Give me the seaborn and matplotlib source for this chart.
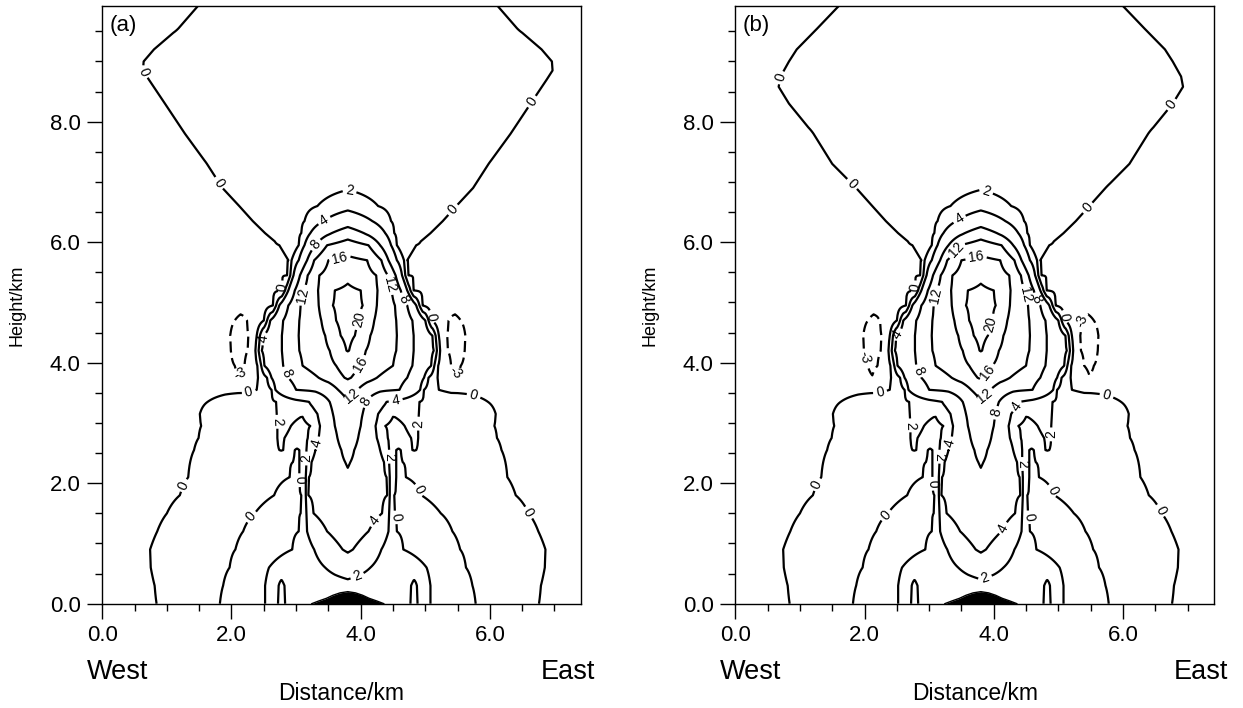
import numpy as np
import matplotlib
matplotlib.use("Agg")
import matplotlib.pyplot as plt
import seaborn as sns

# ---------------------------------------------------------------------------
# Vertical-velocity field, west half of the section (x from 0 to the ridge
# centre at 3.8 km).  Each row is a list of (distance_km, value) knots along
# one height level; the east half mirrors the west half about the ridge.
# ---------------------------------------------------------------------------
ridge_centre = 3.8

heights_low = [0.0, 0.3, 0.6, 0.9, 1.2, 1.5, 1.8, 2.1, 2.35]
profiles_low = [
    [(0, -1.0), (0.84, 0), (1.3, 0.8), (1.82, 0), (2.15, -0.8), (2.52, 0), (2.63, 0.5), (2.72, 0), (2.775, -0.5), (2.83, 0), (3.0, 0.7), (3.5, 0.8), (3.8, 0.8)],
    [(0, -1.0), (0.81, 0), (1.3, 0.8), (1.87, 0), (2.2, -0.8), (2.52, 0), (2.63, 0.5), (2.73, 0), (2.775, -0.3), (2.82, 0), (3.0, 0.8), (3.5, 1.3), (3.8, 1.55)],
    [(0, -1.0), (0.75, 0), (1.3, 0.8), (1.97, 0), (2.28, -0.8), (2.58, 0), (2.9, 1.0), (3.3, 1.6), (3.45, 2), (3.6, 2.4), (3.8, 2.83)],
    [(0, -1.0), (0.74, 0), (1.3, 0.8), (2.06, 0), (2.5, -0.8), (2.94, 0), (3.05, 0.8), (3.28, 2), (3.55, 3.3), (3.72, 4), (3.8, 4.25)],
    [(0, -1.0), (0.85, 0), (1.4, 0.8), (2.18, 0), (2.6, -0.8), (3.04, 0), (3.1, 0.8), (3.17, 2), (3.3, 3.0), (3.48, 4), (3.8, 5.07)],
    [(0, -1.0), (1.0, 0), (1.6, 0.8), (2.36, 0), (2.75, -0.6), (3.07, 0), (3.11, 1.0), (3.16, 2), (3.22, 3.0), (3.27, 4), (3.8, 5.9)],
    [(0, -1.0), (1.2, 0), (1.9, 0.8), (2.66, 0), (2.9, -0.5), (3.08, 0), (3.11, 1.0), (3.15, 2), (3.17, 3.0), (3.19, 4), (3.8, 6.72)],
    [(0, -1.0), (1.33, 0), (2.0, 0.8), (2.9, 0), (2.97, -0.4), (3.05, 0), (3.1, 1.0), (3.15, 2), (3.18, 3), (3.2, 4), (3.8, 7.54)],
    [(0, -1.0), (1.36, 0), (2.1, 0.8), (2.95, 0), (3.0, -0.3), (3.05, 0), (3.1, 1.0), (3.16, 2), (3.2, 3), (3.24, 4), (3.5, 6.5), (3.76, 8), (3.8, 8.28)],
]

heights_mid = [2.55, 2.75, 2.95, 3.15, 3.35, 3.55, 3.75, 3.95, 4.2, 4.45, 4.7]
profiles_mid = [
    [(0, -1.0), (1.42, 0), (2.1, 0.8), (2.74, 2), (2.77, 2.1), (2.80, 2), (2.9, 1.0), (2.98, 0), (3.015, -0.2), (3.05, 0), (3.1, 1), (3.16, 2), (3.22, 3), (3.3, 4), (3.5, 6.5), (3.7, 8), (3.8, 8.97)],
    [(0, -1.0), (1.49, 0), (2.1, 0.8), (2.71, 2), (2.765, 2.3), (2.82, 2), (3.0, 1.2), (3.18, 2), (3.25, 3), (3.35, 4), (3.5, 6), (3.64, 8), (3.8, 9.66)],
    [(0, -1.0), (1.53, 0), (2.1, 0.8), (2.71, 2), (2.82, 2.5), (2.92, 2), (3.07, 1.6), (3.22, 2), (3.3, 3), (3.37, 4), (3.5, 6), (3.6, 8), (3.8, 10.34)],
    [(0, -1.0), (1.51, 0), (2.1, 0.8), (2.7, 2), (2.9, 2.4), (3.1, 2.1), (3.25, 3), (3.33, 4), (3.45, 6), (3.57, 8), (3.8, 11.03)],
    [(0, -1.0), (1.63, 0), (2.1, 0.8), (2.4, 1.0), (2.69, 2), (2.95, 3), (3.2, 4), (3.52, 8), (3.8, 11.72)],
    [(0, -1.0), (1.5, -0.5), (1.9, -0.3), (2.2, -0.3), (2.39, 0), (2.62, 2), (2.68, 4), (3.0, 8), (3.3, 8.5), (3.5, 9.5), (3.65, 12), (3.8, 13.7)],
    [(0, -1.2), (1.6, -1.6), (2.12, -2.9), (2.30, -1.2), (2.41, 0), (2.55, 2), (2.62, 4), (2.88, 8), (3.35, 12), (3.75, 16), (3.8, 16.35)],
    [(0, -1.3), (1.7, -2.2), (2.05, -3), (2.12, -3.4), (2.2, -3), (2.3, -1.5), (2.4, 0), (2.46, 2), (2.51, 4), (2.8, 8), (3.1, 12), (3.62, 16), (3.8, 18.1)],
    [(0, -1.3), (1.7, -2.4), (1.99, -3), (2.12, -3.8), (2.25, -3), (2.37, 0), (2.42, 2), (2.47, 4), (2.78, 8), (3.05, 12), (3.52, 16), (3.78, 20), (3.8, 20.1)],
    [(0, -1.3), (1.7, -2.4), (1.98, -3), (2.12, -3.8), (2.26, -3), (2.39, 0), (2.44, 2), (2.49, 4), (2.78, 8), (3.04, 12), (3.45, 16), (3.69, 20), (3.8, 20.9)],
    [(0, -1.3), (1.8, -2.4), (2.05, -3), (2.14, -3.4), (2.24, -3), (2.5, 0), (2.55, 2), (2.6, 4), (2.8, 8), (3.05, 12), (3.39, 16), (3.62, 20), (3.8, 21.7)],
]

heights_core = [4.95, 5.2, 5.45, 5.7, 5.95, 6.15, 6.35, 6.6]
profiles_core = [
    [(0, -1.2), (1.8, -2.0), (2.2, -2.5), (2.64, 0), (2.69, 2), (2.74, 4), (2.88, 8), (3.07, 12), (3.35, 16), (3.57, 20), (3.8, 21.5)],
    [(0, -1.1), (2.0, -1.5), (2.78, 0), (2.83, 2), (2.88, 4), (2.98, 8), (3.12, 12), (3.34, 16), (3.6, 20), (3.8, 20.6)],
    [(0, -1.0), (2.0, -1.0), (2.46, -0.4), (2.86, 0), (2.91, 2), (2.96, 4), (3.06, 8), (3.18, 12), (3.36, 16), (3.8, 19.26)],
    [(0, -1.0), (2.48, -0.4), (2.88, 0), (2.93, 2), (3.04, 4), (3.17, 8), (3.28, 12), (3.5, 16), (3.8, 16.9)],
    [(0, -1.0), (2.34, -0.4), (2.74, 0), (2.89, 0.15), (3.04, 2), (3.13, 4), (3.3, 8), (3.48, 12), (3.8, 13.8)],
    [(0, -1.0), (2.12, -0.4), (2.52, 0), (2.67, 0.15), (3.08, 2), (3.22, 4), (3.55, 8), (3.8, 10.0)],
    [(0, -1.0), (1.93, -0.4), (2.33, 0), (2.63, 0.3), (3.13, 2), (3.42, 4), (3.8, 6.08)],
    [(0, -1.0), (1.72, -0.4), (2.12, 0), (2.42, 0.3), (3.33, 2), (3.8, 3.14)],
]

# Upper layer, panel (a)
heights_upper_a = [6.9, 7.3, 7.8, 8.3, 8.7, 8.85, 9.0, 9.2, 9.55, 9.92]
profiles_upper_a = [
    [(0, -1.0), (1.46, -0.4), (1.86, 0), (2.16, 0.3), (3.8, 1.87)],
    [(0, -1.0), (1.22, -0.4), (1.62, 0), (1.92, 0.3), (3.8, 1.5)],
    [(0, -0.9), (0.88, -0.4), (1.28, 0), (1.58, 0.3), (3.8, 1.2)],
    [(0, -0.8), (0.57, -0.4), (0.97, 0), (1.27, 0.3), (3.8, 1.0)],
    [(0, -0.72), (0.72, 0), (1.02, 0.3), (3.8, 0.88)],
    [(0, -0.63), (0.63, 0), (0.93, 0.3), (3.8, 0.86)],
    [(0, -0.64), (0.64, 0), (0.94, 0.3), (3.8, 0.83)],
    [(0, -0.8), (0.8, 0), (1.1, 0.3), (3.8, 0.8)],
    [(0, -0.9), (0.78, -0.4), (1.18, 0), (1.48, 0.3), (3.8, 0.7)],
    [(0, -1.0), (1.08, -0.4), (1.48, 0), (1.78, 0.3), (3.8, 0.6)],
]

# Upper layer, panel (b)
heights_upper_b = [6.9, 7.3, 7.8, 8.3, 8.58, 8.75, 9.0, 9.2, 9.55, 9.92]
profiles_upper_b = [
    [(0, -1.0), (1.47, -0.4), (1.87, 0), (2.17, 0.3), (3.8, 1.87)],
    [(0, -1.0), (1.1, -0.4), (1.5, 0), (1.8, 0.3), (3.8, 1.5)],
    [(0, -0.9), (0.81, -0.4), (1.21, 0), (1.51, 0.3), (3.8, 1.2)],
    [(0, -0.83), (0.83, 0), (1.13, 0.3), (3.8, 1.0)],
    [(0, -0.67), (0.67, 0), (0.97, 0.3), (3.8, 0.9)],
    [(0, -0.70), (0.70, 0), (1.0, 0.3), (3.8, 0.87)],
    [(0, -0.83), (0.83, 0), (1.13, 0.3), (3.8, 0.83)],
    [(0, -0.95), (0.95, 0), (1.25, 0.3), (3.8, 0.8)],
    [(0, -1.0), (0.87, -0.4), (1.27, 0), (1.57, 0.3), (3.8, 0.7)],
    [(0, -1.0), (1.2, -0.4), (1.6, 0), (1.9, 0.3), (3.8, 0.6)],
]

contour_levels = [-3, 0, 2, 4, 8, 12, 16, 20]

# Bell-shaped ridge at the bottom of the section
ridge_x = [3.24, 3.35, 3.47, 3.57, 3.68, 3.8, 3.92, 4.03, 4.13, 4.25, 4.36]
ridge_h = [0.0, 0.045, 0.09, 0.14, 0.18, 0.2, 0.18, 0.14, 0.09, 0.045, 0.0]

panel_tags = ["(a)", "(b)"]

# Where the in-line value labels sit
label_spots_a = [
    (0.65, 8.83), (1.80, 6.98), (6.70, 8.30), (5.46, 6.51),
    (3.80, 6.75), (3.45, 6.34), (3.34, 5.93), (3.68, 5.73),
    (3.11, 5.12), (4.42, 5.29), (4.02, 4.71), (3.96, 3.99),
    (3.88, 3.43), (4.10, 3.35), (4.56, 3.25), (2.52, 4.40),
    (2.83, 3.82), (2.16, 3.80), (5.42, 3.82), (2.29, 3.42),
    (5.75, 3.46), (2.72, 3.02), (4.87, 2.99), (1.31, 1.94),
    (2.31, 1.44), (3.05, 2.05), (3.19, 2.41), (3.34, 2.66),
    (3.95, 0.45), (4.25, 1.35), (4.40, 2.44), (4.66, 1.44),
    (4.89, 1.88), (6.66, 1.54), (2.78, 5.25), (5.10, 4.76),
    (4.63, 5.04),
]
label_spots_b = [
    (0.71, 8.73), (1.81, 6.97), (6.77, 8.27), (5.51, 6.52),
    (3.84, 6.70), (3.52, 6.30), (3.39, 5.90), (3.74, 5.70),
    (3.15, 5.10), (4.46, 5.13), (3.98, 4.63), (3.87, 3.86),
    (3.88, 3.43), (4.03, 3.17), (4.38, 3.26), (2.56, 4.42),
    (2.83, 3.86), (2.04, 4.09), (5.30, 4.70), (2.26, 3.42),
    (5.75, 3.47), (2.72, 2.96), (4.92, 2.81), (1.32, 1.95),
    (2.34, 1.46), (3.04, 1.99), (3.20, 2.44), (3.34, 2.66),
    (3.87, 0.41), (4.17, 1.24), (4.46, 2.32), (4.65, 1.46),
    (4.89, 1.87), (6.63, 1.57), (2.80, 5.25), (5.10, 4.76),
    (4.63, 5.04),
]

# ---------------------------------------------------------------------------
x_half = np.linspace(0.0, ridge_centre, 381)
x_full = np.concatenate([x_half, 2 * ridge_centre - x_half[::-1][1:]])


def row_from_knots(knots):
    xs = [k[0] for k in knots]
    vs = [k[1] for k in knots]
    return np.interp(x_half, xs, vs)


def build_field(rows):
    half = np.array([row_from_knots(k) for k in rows])
    return np.concatenate([half, half[:, ::-1][:, 1:]], axis=1)


base_heights = heights_low + heights_mid + heights_core
base_profiles = profiles_low + profiles_mid + profiles_core
panels = [
    (panel_tags[0], base_heights + heights_upper_a,
     build_field(base_profiles + profiles_upper_a), label_spots_a),
    (panel_tags[1], base_heights + heights_upper_b,
     build_field(base_profiles + profiles_upper_b), label_spots_b),
]

sns.set_theme(style="ticks")
plt.rcParams["font.family"] = ["Liberation Sans", "DejaVu Sans"]
plt.rcParams.update({
    "text.color": "black",
    "axes.labelcolor": "black",
    "xtick.color": "black",
    "ytick.color": "black",
    "axes.edgecolor": "black",
    "axes.linewidth": 1.0,
})

fig = plt.figure(figsize=(12.43, 7.08), dpi=100)
left_edges = [0.0823, 0.5916]

for (tag, hts, field, spots), left in zip(panels, left_edges):
    ax = fig.add_axes([left, 0.1473, 0.3851, 0.8442])
    styles = [(0, (5, 2.5)) if lv < 0 else "solid" for lv in contour_levels]
    cs = ax.contour(x_full, hts, field, levels=contour_levels,
                    colors="black", linewidths=1.6, linestyles=styles)
    ax.clabel(cs, fmt="%d", fontsize=10, inline=True, inline_spacing=3,
              manual=spots)

    ax.fill_between(ridge_x, 0, ridge_h, color="black", lw=0)
    sns.lineplot(x=ridge_x, y=ridge_h, ax=ax, color="black", lw=1)

    ax.set_xlim(0, 7.41)
    ax.set_ylim(0, 9.92)
    ax.set_xticks([0, 2, 4, 6])
    ax.set_xticklabels(["0.0", "2.0", "4.0", "6.0"])
    ax.set_xticks(np.arange(0.5, 7.4, 0.5), minor=True)
    ax.set_yticks([0, 2, 4, 6, 8])
    ax.set_yticklabels(["0.0", "2.0", "4.0", "6.0", "8.0"])
    ax.set_yticks(np.arange(0.5, 9.9, 0.5), minor=True)
    ax.tick_params(which="major", length=10.5, width=1.0, labelsize=16,
                   pad=5)
    ax.tick_params(which="minor", length=5, width=1.0)
    ax.tick_params(top=False, right=False)
    ax.set_ylabel("Height/km", fontsize=13)
    ax.yaxis.set_label_coords(-0.16, 0.5)
    ax.set_xlabel("")
    ax.text(0.016, 0.985, tag, transform=ax.transAxes, fontsize=16,
            va="top", ha="left")

    offset = left - left_edges[0]
    fig.text(0.0698 + offset, 0.0405, "West", fontsize=19.5, ha="left",
             va="baseline")
    fig.text(0.4787 + offset, 0.0405, "East", fontsize=19.5, ha="right",
             va="baseline")
    fig.text(0.2748 + offset, 0.0113, "Distance/km", fontsize=16.5,
             ha="center", va="baseline")

fig.savefig("out.png", dpi=100, facecolor="white")
